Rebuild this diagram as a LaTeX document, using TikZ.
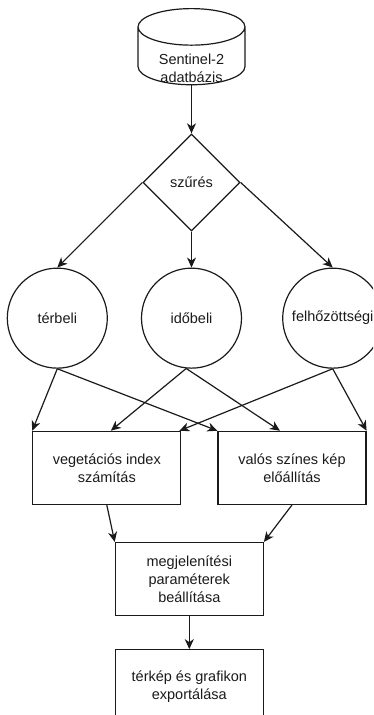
\documentclass[tikz,border=0pt]{standalone}
\usepackage{fontspec}
\setmainfont{Liberation Sans}
\usepackage{tikz}
\usetikzlibrary{arrows.meta,positioning,shapes.geometric}
\definecolor{ink}{HTML}{1A1A1A}
\tikzset{
    every picture/.style={line join=miter},
    dbnode/.style={draw=ink,cylinder,shape border rotate=90,aspect=0.56,
      minimum width=107pt,minimum height=73pt,inner sep=0pt,line width=1.2pt,
      align=center,text height=20.7pt,text depth=-0.7pt},
    dbtext/.style={text=ink,align=center,inner sep=0pt},
    filternode/.style={draw=ink,diamond,minimum width=97pt,minimum height=97pt,
      inner sep=0pt,line width=1.2pt,text=ink,align=center},
    critnode/.style={draw=ink,circle,minimum size=100pt,inner sep=0pt,
      line width=1.2pt,text=ink,align=center},
    procbox/.style={draw=ink,rectangle,minimum width=148pt,minimum height=73pt,
      inner sep=2pt,line width=1.2pt,text=ink,align=center},
    flowarrow/.style={-{Stealth[length=10pt,width=9pt,inset=3pt]},draw=ink,
      line width=1.2pt}
}

\begin{document}
\begin{tikzpicture}[font=\fontsize{14.5}{18}\selectfont]
  \clip (0,0) rectangle (373pt,-715pt);
  \node[dbnode,anchor=north] (db) at (191.5pt,-8pt) {\phantom{Sentinel-2}\\\phantom{adatbázis}};
  \node[dbtext] (dbname) at ([yshift=-21.5pt]db.shape center) {Sentinel-2\\adatbázis};
  \node[filternode,below=48pt of db] (filt) {szűrés};
  \node[critnode,below=36pt of filt] (ido) {időbeli};
  \node[critnode,left=33pt of ido] (ter) {térbeli};
  \node[critnode,right=40pt of ido] (fel) {felhőzöttségi};
  \node[procbox,below=62pt of ter,xshift=49.5pt] (veg) {vegetációs index\\számítás};
  \node[procbox,right=36pt of veg] (rgb) {valós színes kép\\előállítás};
  \node[procbox,below=37pt of veg,xshift=82.5pt] (disp) {megjelenítési\\paraméterek\\beállítása};
  \node[procbox,below=33pt of disp] (exp) {térkép és grafikon\\exportálása};
  \draw[flowarrow] (db)--(filt);
  \draw[flowarrow] (filt.west)--(ter.north);
  \draw[flowarrow] (filt.south)--(ido.north);
  \draw[flowarrow] (filt.east)--(fel.north);
  \draw[flowarrow] (ter.south)--(veg.north west);
  \draw[flowarrow] (ter.south)--(rgb.north west);
  \draw[flowarrow] (ido.-96)--([xshift=4pt]veg.north);
  \draw[flowarrow] (ido.-96)--([xshift=-12pt]rgb.north);
  \draw[flowarrow] (fel.south)--([xshift=-2pt]veg.north east);
  \draw[flowarrow] (fel.south)--(rgb.north east);
  \draw[flowarrow] (veg.south)--(disp.north west);
  \draw[flowarrow] (rgb.south)--(disp.north east);
  \draw[flowarrow] (disp)--(exp);
\end{tikzpicture}
\end{document}
